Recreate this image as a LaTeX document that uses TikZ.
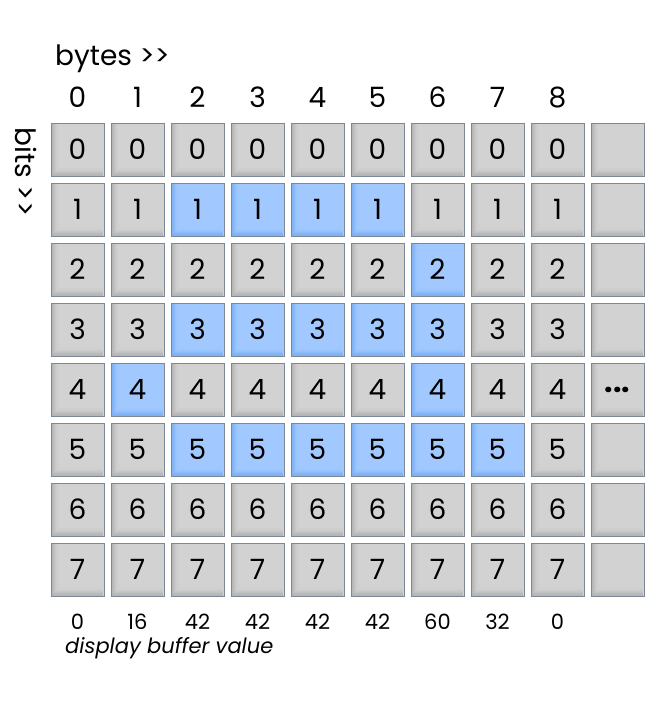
\documentclass[tikz,border=0pt]{standalone}
\usepackage{fontspec}
\setmainfont{Poppins}
\definecolor{gfill}{HTML}{D2D2D2}
\definecolor{gdark}{HTML}{B6B6B6}
\definecolor{bfill}{HTML}{A2C9FF}
\definecolor{bdark}{HTML}{7FB2F5}
\definecolor{cellborder}{HTML}{7D8896}
\begin{document}
\begin{tikzpicture}[x=1pt,y=-1pt,
  cellbase/.style={draw=cellborder, line width=0.8pt, minimum size=53pt, inner sep=0pt,
    font=\fontsize{28}{28}\selectfont, text=black},
  bevel/.style 2 args={path picture={
    \foreach \k/\p in {1/100,2.2/80,3.4/60,4.6/40,5.8/22,7/10} {
      \draw[line width=1.3pt, color=#1!\p!#2]
        ([xshift=\k pt,yshift=-1pt]path picture bounding box.north west)
        -- ([xshift=\k pt,yshift=\k pt]path picture bounding box.south west)
        -- ([xshift=-1pt,yshift=\k pt]path picture bounding box.south east);
    }
  }},
  graycell/.style={cellbase, fill=gfill, bevel={gdark}{gfill}},
  bluecell/.style={cellbase, fill=bfill, bevel={bdark}{bfill}},
  hdr/.style={anchor=base, inner sep=0pt, font=\fontsize{28}{28}\selectfont},
  val/.style={anchor=base, inner sep=0pt, font=\fontsize{21}{21}\selectfont},
  lbl/.style={inner sep=0pt, font=\fontsize{28}{28}\selectfont}
]
\useasboundingbox (0,0) rectangle (670,703);
\foreach \i/\v in {0/0,1/16,2/42,3/42,4/42,5/42,6/60,7/32,8/0} {
  \foreach \j in {0,...,7} {
    \pgfmathtruncatemacro\b{mod(floor(\v/2^\j),2)}
    \ifnum\b=1
      \node[bluecell] (c\i-\j) at ({77.5+60*\i},{149.5+60*\j}) {\j};
    \else
      \node[graycell] (c\i-\j) at ({77.5+60*\i},{149.5+60*\j}) {\j};
    \fi
  }
  \node[hdr] (h\i) at ({77.5+60*\i},108) {\i};
  \node[val] (v\i) at ({77.5+60*\i},629) {\v};
}
\foreach \j in {0,...,7} {
  \ifnum\j=4
    \node[graycell, font=\fontsize{30}{30}\selectfont\bfseries] (c9-\j) at (617.5,{149.5+60*\j}) {...};
  \else
    \node[graycell] (c9-\j) at (617.5,{149.5+60*\j}) {};
  \fi
}
\node[lbl, anchor=base west] (bytes) at (55,66) {bytes \mbox{>}\mbox{>}};
\node[lbl, rotate=-90] (bits) at (26,172) {bits \mbox{>}\mbox{>}};
\node[inner sep=0pt, anchor=base west, font=\fontsize{21}{21}\selectfont\itshape] (dbv) at (65,653) {display buffer value};
\end{tikzpicture}
\end{document}
